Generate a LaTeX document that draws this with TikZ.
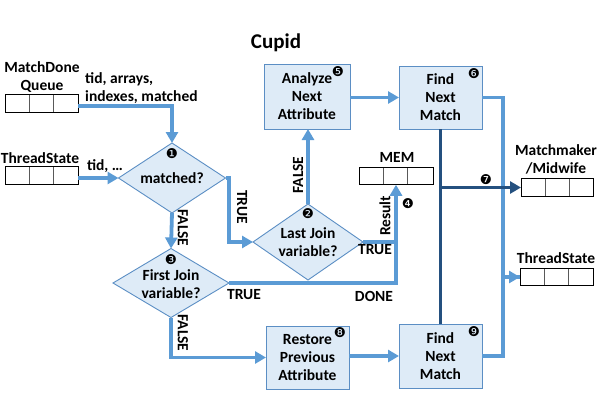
\documentclass[tikz,border=0pt]{standalone}
\usepackage{fontspec}
\setmainfont{Carlito}
\newfontfamily\symfont{DejaVu Sans}
\usetikzlibrary{arrows.meta,shapes.geometric,calc}
\definecolor{lblue}{HTML}{5B9BD5}
\definecolor{dblue}{HTML}{24507F}
\definecolor{bfill}{HTML}{DEEBF7}
\definecolor{bdraw}{HTML}{5B8EC4}
\tikzset{
  txt/.style={font=\fontsize{15.5}{18}\selectfont\bfseries, align=center, inner sep=0pt},
  lbl/.style={font=\fontsize{15.5}{18}\selectfont\bfseries, inner sep=0pt},
  titlef/.style={font=\fontsize{21}{24}\selectfont\bfseries, inner sep=0pt},
  num/.style={font=\fontsize{13.5}{14}\selectfont\symfont, inner sep=0pt},
  procbox/.style={draw=bdraw, fill=bfill, line width=0.9pt, inner sep=0pt, outer sep=0pt},
  dia/.style={diamond, draw=bdraw, fill=bfill, line width=0.9pt, inner sep=0pt, outer sep=0pt},
  queue/.style={draw=black, line width=0.8pt, minimum width=73, minimum height=17.5, inner sep=0pt, outer sep=0pt,
    path picture={\draw[gray!70!black, line width=0.7pt]
      ([xshift=24.3pt]path picture bounding box.north west) -- ([xshift=24.3pt]path picture bounding box.south west)
      ([xshift=48.7pt]path picture bounding box.north west) -- ([xshift=48.7pt]path picture bounding box.south west);}},
  flow/.style={draw=lblue, line width=3.8pt, -{Triangle[length=11pt,width=12pt]}},
  flowp/.style={draw=lblue, line width=3.8pt},
  dflow/.style={draw=dblue, line width=3.8pt, -{Triangle[length=11pt,width=12pt]}},
  dflowp/.style={draw=dblue, line width=3.8pt},
}
\begin{document}
\begin{tikzpicture}[x=1pt,y=-1pt]
\useasboundingbox (0,0) rectangle (598,405);
% title
\node[titlef] (title) at (276,43) {Cupid};
% queues
\node[txt] (mdql) at (42,77) {MatchDone\\Queue};
\node[queue] (mdq) at (41.5,103.5) {};
\node[txt] (ts1l) at (40,158) {ThreadState};
\node[queue] (ts1) at (41.5,175.5) {};
\node[txt] (meml) at (397,157) {MEM};
\node[queue, minimum width=74] (mem) at (396,176) {};
\node[txt] (mml) at (556,159) {Matchmaker\\/Midwife};
\node[queue, minimum width=72] (mm) at (557,187.5) {};
\node[txt] (ts2l) at (556,258) {ThreadState};
\node[queue, minimum width=73] (ts2) at (556.5,277) {};
% process boxes
\node[procbox, minimum width=86, minimum height=65] (an) at (307,96.5) {};
\node[txt] at (an) {Analyze\\Next\\Attribute};
\node[procbox, minimum width=83, minimum height=63] (f6) at (440.5,97.5) {};
\node[txt] at (f6) {Find\\Next\\Match};
\node[procbox, minimum width=83, minimum height=63] (rs) at (307.5,357.5) {};
\node[txt] at (rs) {Restore\\Previous\\Attribute};
\node[procbox, minimum width=83, minimum height=64] (f9) at (440.5,356) {};
\node[txt] at (f9) {Find\\Next\\Match};
% diamonds
\node[dia, minimum width=107, minimum height=70] (d1) at (172,178) {};
\node[txt] at (172,178) {matched?};
\node[dia, minimum width=110, minimum height=76] (d2) at (308,242) {};
\node[txt] at (308,242) {Last Join\\variable?};
\node[dia, minimum width=116, minimum height=69] (d3) at (171,283) {};
\node[txt] at (171,284) {First Join\\variable?};
% connectors
\draw[flow] ([yshift=-2.5pt]mdq.east) -| (d1.north);
\draw[flow] (ts1.east |- d1.west) -- (d1.west);
\draw[flow] (d1.east) -- ++(3.5,0) |- (d2.west);
\draw[flow] (d1.south) -- (d3.north);
\draw[flow] (d2.north) -- (d2.north |- an.south);
\draw[flow] (d2.east) -| (mem.south);
\draw[flowp] (d3.east) -| ([yshift=1.9pt]d2.east -| mem.south);
\draw[flow] (d3.south) |- (rs.west);
\draw[flow] (an.east |- f6.west) -- (f6.west);
\draw[flow] (rs.east |- f9.west) -- (f9.west);
\draw[flowp] (f6.east) -- ++(21,0) coordinate (jr) |- (ts2.west);
\draw[flow] (f9.east) -| (jr |- ts2.west) -- (ts2.west);
\draw[dflowp] (f6.south) -- (f9.north);
\draw[dflow] (f6.south |- mm.west) -- (mm.west);
% labels
\node[lbl, anchor=west, align=left] (lq) at (85,88) {tid, arrays,\\indexes, matched};
\node[lbl] (lt) at (105,166) {tid, \ldots};
\node[lbl, rotate=-90] (t1) at (242,207) {TRUE};
\node[lbl, rotate=-90] (f1) at (183,228) {FALSE};
\node[lbl, rotate=90] (f2) at (298,175) {FALSE};
\node[lbl, rotate=90] (res) at (385,216) {Result};
\node[lbl] (t2) at (375,250) {TRUE};
\node[lbl] (t3) at (244,295) {TRUE};
\node[lbl] (dn) at (374,296) {DONE};
\node[lbl, rotate=-90] (f3) at (183,333) {FALSE};
% numbers
\node[num] (n1) at (172,154) {❶};
\node[num] (n2) at (308,214) {❷};
\node[num] (n3) at (171,260) {❸};
\node[num] (n4) at (408,204) {❹};
\node[num] (n5) at (338,72) {❺};
\node[num] (n6) at (474,74) {❻};
\node[num] (n7) at (486,180) {❼};
\node[num] (n8) at (340,333) {❽};
\node[num] (n9) at (474,332) {❾};
\end{tikzpicture}
\end{document}
